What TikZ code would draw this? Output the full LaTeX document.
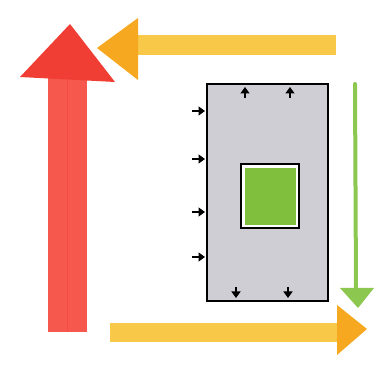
\documentclass[tikz,border=0pt]{standalone}
\usetikzlibrary{arrows.meta}
\definecolor{redhead}{RGB}{240,62,52}
\definecolor{redshaft}{RGB}{246,88,78}
\definecolor{yelshaft}{RGB}{248,200,72}
\definecolor{orhead}{RGB}{246,168,32}
\definecolor{greenarr}{RGB}{140,200,80}
\definecolor{greenfill}{RGB}{128,190,62}
\definecolor{greyfill}{RGB}{206,206,212}
\tikzset{
  smallarr/.style={line width=1.4pt,-{Triangle[length=6.5pt,width=9pt]}},
  boxline/.style={draw=black,line width=1.1pt}
}
\begin{document}
\begin{tikzpicture}[x=1pt,y=-1pt]
\useasboundingbox (0,0) rectangle (389,366);
% red arrow (up)
\fill[redshaft] (48,78) rectangle (87,332);
\draw[redhead,line width=0.8pt,opacity=0.4] (67,80) -- (67,332);
\fill[redhead] (70,24) -- (20,77) -- (115,82) -- cycle;
% top arrow (left)
\fill[yelshaft] (136,35) rectangle (336,55);
\fill[orhead] (97,48) -- (138,18) -- (138,80) -- cycle;
% bottom arrow (right)
\fill[yelshaft] (110,323) rectangle (339,342);
\fill[orhead] (367,329) -- (337,305) -- (337,355) -- cycle;
% green arrow (down)
\draw[greenarr,line width=4pt,line cap=round] (355,84) -- (356,289);
\fill[greenarr] (340,288) -- (374,288) -- (358,308) -- cycle;
% grey box
\coordinate (boxNW) at (207,84);
\coordinate (boxSE) at (328,301);
\fill[greyfill] (boxNW) rectangle (boxSE);
\draw[boxline] (boxNW) rectangle (boxSE);
% inner box
\coordinate (inNW) at (241,164);
\coordinate (inSE) at (299,228);
\fill[white] (inNW) rectangle (inSE);
\fill[greenfill] (245,168) rectangle (296,225);
\draw[boxline] (inNW) rectangle (inSE);
% small arrows
\coordinate (t1a) at (245,98); \coordinate (t1b) at (245,87);
\coordinate (t2a) at (290,98); \coordinate (t2b) at (290,87);
\draw[smallarr] (t1a) -- (t1b);
\draw[smallarr] (t2a) -- (t2b);
\coordinate (b1a) at (236,287); \coordinate (b1b) at (236,298);
\coordinate (b2a) at (288,287); \coordinate (b2b) at (288,298);
\draw[smallarr] (b1a) -- (b1b);
\draw[smallarr] (b2a) -- (b2b);
\foreach \yy/\nm in {111/l1,159/l2,212/l3,257/l4}{
  \coordinate (\nm a) at (192,\yy);
  \coordinate (\nm b) at (205,\yy);
  \draw[smallarr] (\nm a) -- (\nm b);
}
\end{tikzpicture}
\end{document}
